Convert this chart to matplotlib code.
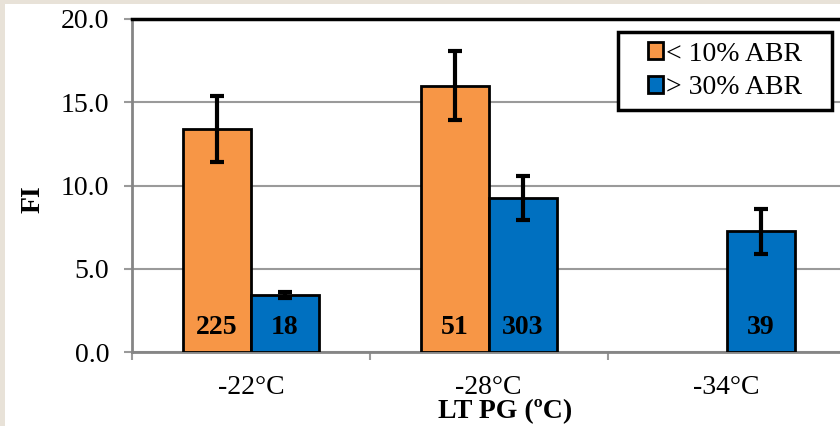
import numpy as np
import matplotlib.pyplot as plt
from matplotlib.patches import Rectangle

# data
categories = ['-22°C', '-28°C', '-34°C']
low_abr = [13.4, 16.0, np.nan]
low_err = [1.98, 2.08, np.nan]
low_n = ['225', '51', '']
high_abr = [3.42, 9.25, 7.25]
high_err = [0.2, 1.32, 1.35]
high_n = ['18', '303', '39']

orange = '#F79646'
blue = '#0070C0'
grid_gray = '#9A9A9A'
serif = ['Liberation Serif', 'DejaVu Serif']

fig = plt.figure(figsize=(8.4, 4.26), dpi=100)
fig.patch.set_facecolor('#E8E2D8')
fig.patches.append(Rectangle((5 / 840, 0), 1, 1 - 4 / 426, transform=fig.transFigure,
                             facecolor='white', edgecolor='none', zorder=-10))

ax = fig.add_axes([132 / 840, 74 / 426, 713.5 / 840, 333 / 426])
ax.set_zorder(1)
ax.set_facecolor('white')

x = np.arange(len(categories))
w = 0.286

ax.bar(x - w / 2, low_abr, w, color=orange, edgecolor='black', linewidth=2,
       label='< 10% ABR', zorder=3)
ax.bar(x + w / 2, high_abr, w, color=blue, edgecolor='black', linewidth=2,
       label='> 30% ABR', zorder=3)
ax.errorbar(x - w / 2, low_abr, yerr=low_err, fmt='none', ecolor='black',
            elinewidth=3, capsize=5, capthick=3, zorder=4)
ax.errorbar(x + w / 2, high_abr, yerr=high_err, fmt='none', ecolor='black',
            elinewidth=3, capsize=5, capthick=3, zorder=4)

# counts inside bars
for i in range(len(categories)):
    if low_n[i]:
        ax.text(x[i] - w / 2, 1.5, low_n[i], ha='center', va='center',
                fontsize=20, fontweight='bold', family=serif, zorder=5)
    ax.text(x[i] + w / 2, 1.5, high_n[i], ha='center', va='center',
            fontsize=20, fontweight='bold', family=serif, zorder=5)

ax.set_xlim(-0.5, 2.5)
ax.set_ylim(0, 20)
ax.set_yticks([0, 5, 10, 15, 20])
ax.set_yticklabels(['0.0', '5.0', '10.0', '15.0', '20.0'], family=serif, fontsize=20)
ax.yaxis.grid(True, color=grid_gray, linewidth=1.5, zorder=0)
ax.set_axisbelow(True)

ax.set_xticks(x)
ax.set_xticklabels(categories, family=serif, fontsize=20)
ax.set_xticks([-0.5, 0.5, 1.5, 2.5], minor=True)
ax.tick_params(axis='x', which='major', length=0, pad=16.5)
ax.tick_params(axis='x', which='minor', length=6, width=1.5, color=grid_gray)
ax.tick_params(axis='y', length=6, width=1.5, color=grid_gray, pad=10.5)

for s in ['left', 'bottom']:
    ax.spines[s].set_color('#858585')
    ax.spines[s].set_linewidth(2)
ax.spines['top'].set_color('black')
ax.spines['top'].set_linewidth(2.5)
ax.spines['right'].set_visible(False)

ax.set_xlabel('LT PG (ºC)', family=serif, fontsize=20, fontweight='bold', va='center')
ax.xaxis.set_label_coords(0.523, -0.178)
ax.set_ylabel('FI', family=serif, fontsize=20, fontweight='bold', va='center')
ax.yaxis.set_label_coords(-0.139, 0.46)

# legend frame drawn separately so the entries sit centred in a wider box
ax.add_patch(Rectangle((0.681, 0.727), 0.300, 0.234, transform=ax.transAxes,
                       facecolor='white', edgecolor='black', linewidth=2.5,
                       zorder=6, clip_on=False))
leg = ax.legend(loc='center', bbox_to_anchor=(0.831, 0.844),
                prop={'family': serif, 'size': 20}, frameon=False,
                handlelength=0.55, handleheight=0.55, handletextpad=0.1,
                borderpad=0, labelspacing=0.32, borderaxespad=0)
leg.set_zorder(7)
for h in leg.legend_handles:
    h.set_linewidth(2)

fig.savefig('out.png', dpi=100, facecolor=fig.get_facecolor())
